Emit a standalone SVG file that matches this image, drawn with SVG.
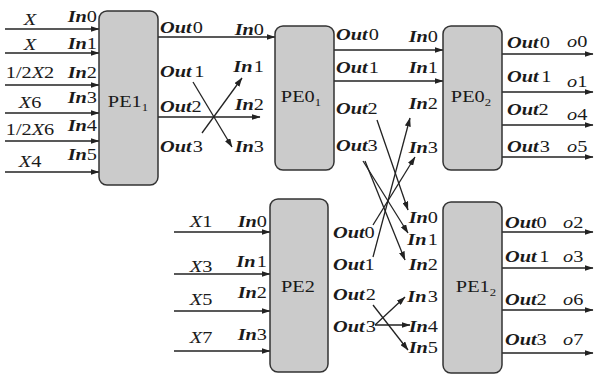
<svg xmlns="http://www.w3.org/2000/svg" width="594" height="375" viewBox="0 0 594 375">
<style>
.bg{fill:#ffffff}
.box{fill:#cbcbcb;stroke:#333;stroke-width:1.5}
.t{font-family:"Liberation Serif","Times New Roman",serif;font-size:16px;fill:#1a1a1a;transform-box:fill-box;transform:scaleX(1.27)}
.l{transform-origin:0 0}
.r{text-anchor:end;transform-origin:100% 0}
.m{text-anchor:middle;transform-origin:50% 0}
.pe{font-size:16px}
.i{font-style:italic;font-weight:bold}
.x{font-style:italic}
.ln{fill:none;stroke:#222;stroke-width:1.3;marker-end:url(#a)}
</style>
<defs>
<marker id="a" markerWidth="9" markerHeight="6" refX="8.5" refY="3" orient="auto" markerUnits="userSpaceOnUse"><path d="M0,0 L9,3 L0,6 z" fill="#222"/></marker>
</defs>
<rect class="bg" x="0" y="0" width="594" height="375"/>
<g id="connectors">
<path class="ln" d="M5,29 H99"/>
<path class="ln" d="M5,53 H99"/>
<path class="ln" d="M5,85 H99"/>
<path class="ln" d="M5,113 H99"/>
<path class="ln" d="M5,141 H99"/>
<path class="ln" d="M5,172 H99"/>
<path class="ln" d="M158,37 H275"/>
<path class="ln" d="M158,117 H260"/>
<path class="ln" d="M193,82 L232,147"/>
<path class="ln" d="M202,133 L242,78"/>
<path class="ln" d="M334,50 H443"/>
<path class="ln" d="M334,81 H443"/>
<path class="ln" d="M377,120 L408,210"/>
<path class="ln" d="M363,161 L408,233"/>
<path class="ln" d="M365,161 L405,260"/>
<path class="ln" d="M174,232 H270"/>
<path class="ln" d="M174,274 H270"/>
<path class="ln" d="M174,311 H270"/>
<path class="ln" d="M174,351 H270"/>
<path class="ln" d="M373,225 L415,157"/>
<path class="ln" d="M373,257 L410,118"/>
<path class="ln" d="M373,305 L408,350"/>
<path class="ln" d="M375,325 L405,297"/>
<path class="ln" d="M375,325 L410,325"/>
<path class="ln" d="M502,54 H593"/>
<path class="ln" d="M502,92 H593"/>
<path class="ln" d="M502,125 H593"/>
<path class="ln" d="M502,157 H593"/>
<path class="ln" d="M502,232 H593"/>
<path class="ln" d="M502,268 H593"/>
<path class="ln" d="M502,310 H593"/>
<path class="ln" d="M502,353 H593"/>
</g>
<g id="inputs1">
<text class="t m" x="30" y="25"><tspan class="x">X</tspan></text>
<text class="t m" x="30" y="50"><tspan class="x">X</tspan></text>
<text class="t m" x="30" y="78">1/2<tspan class="x">X</tspan>2</text>
<text class="t m" x="30" y="108"><tspan class="x">X</tspan>6</text>
<text class="t m" x="30" y="135">1/2<tspan class="x">X</tspan>6</text>
<text class="t m" x="30" y="167"><tspan class="x">X</tspan>4</text>
</g>
<g id="PE1_1">
<rect class="box" x="99" y="11" width="59" height="174" rx="8"/>
<text class="t m pe" x="128" y="107">PE1<tspan font-size="10" dy="4">1</tspan></text>
<text class="t r" x="97" y="22"><tspan class="i">In</tspan>0</text>
<text class="t r" x="97" y="49"><tspan class="i">In</tspan>1</text>
<text class="t r" x="97" y="78"><tspan class="i">In</tspan>2</text>
<text class="t r" x="97" y="103"><tspan class="i">In</tspan>3</text>
<text class="t r" x="97" y="131"><tspan class="i">In</tspan>4</text>
<text class="t r" x="97" y="160"><tspan class="i">In</tspan>5</text>
<text class="t l" x="160" y="33"><tspan class="i">Out</tspan><tspan dx="1">0</tspan></text>
<text class="t l" x="160" y="77"><tspan class="i">Out</tspan><tspan dx="2">1</tspan></text>
<text class="t l" x="160" y="112"><tspan class="i">Out</tspan>2</text>
<text class="t l" x="160" y="152"><tspan class="i">Out</tspan><tspan dx="1">3</tspan></text>
</g>
<g id="PE0_1">
<rect class="box" x="275" y="26" width="59" height="144" rx="8"/>
<text class="t m pe" x="301" y="102">PE0<tspan font-size="10" dy="4">1</tspan></text>
<text class="t r" x="264" y="35"><tspan class="i">In</tspan>0</text>
<text class="t r" x="264" y="72"><tspan class="i">In</tspan><tspan dx="1">1</tspan></text>
<text class="t r" x="264" y="110"><tspan class="i">In</tspan>2</text>
<text class="t r" x="264" y="152"><tspan class="i">In</tspan>3</text>
<text class="t l" x="336" y="40"><tspan class="i">Out</tspan><tspan dx="1">0</tspan></text>
<text class="t l" x="336" y="73"><tspan class="i">Out</tspan><tspan dx="1">1</tspan></text>
<text class="t l" x="336" y="114"><tspan class="i">Out</tspan>2</text>
<text class="t l" x="336" y="151"><tspan class="i">Out</tspan>3</text>
</g>
<g id="PE0_2">
<rect class="box" x="443" y="26" width="59" height="144" rx="8"/>
<text class="t m pe" x="471" y="102">PE0<tspan font-size="10" dy="4">2</tspan></text>
<text class="t r" x="438" y="42"><tspan class="i">In</tspan>0</text>
<text class="t r" x="438" y="73"><tspan class="i">In</tspan>1</text>
<text class="t r" x="438" y="109"><tspan class="i">In</tspan>2</text>
<text class="t r" x="438" y="153"><tspan class="i">In</tspan>3</text>
<text class="t l" x="507" y="48"><tspan class="i">Out</tspan><tspan dx="1">0</tspan></text>
<text class="t l" x="507" y="82"><tspan class="i">Out</tspan><tspan dx="2">1</tspan></text>
<text class="t l" x="507" y="115"><tspan class="i">Out</tspan>2</text>
<text class="t l" x="507" y="152"><tspan class="i">Out</tspan><tspan dx="1">3</tspan></text>
<text class="t l" x="567" y="47"><tspan class="x">o</tspan>0</text>
<text class="t l" x="567" y="87"><tspan class="x">o</tspan>1</text>
<text class="t l" x="567" y="120"><tspan class="x">o</tspan>4</text>
<text class="t l" x="567" y="152"><tspan class="x">o</tspan>5</text>
</g>
<g id="PE2">
<rect class="box" x="270" y="199" width="58" height="173" rx="8"/>
<text class="t m pe" x="298" y="292">PE2</text>
<text class="t m" x="201" y="227"><tspan class="x">X</tspan>1</text>
<text class="t m" x="201" y="272"><tspan class="x">X</tspan>3</text>
<text class="t m" x="201" y="305"><tspan class="x">X</tspan>5</text>
<text class="t m" x="201" y="343"><tspan class="x">X</tspan>7</text>
<text class="t r" x="267" y="227"><tspan class="i">In</tspan>0</text>
<text class="t r" x="267" y="267"><tspan class="i">In</tspan><tspan dx="1">1</tspan></text>
<text class="t r" x="267" y="298"><tspan class="i">In</tspan>2</text>
<text class="t r" x="267" y="340"><tspan class="i">In</tspan>3</text>
<text class="t l" x="333" y="238"><tspan class="i">Out</tspan>0</text>
<text class="t l" x="333" y="270"><tspan class="i">Out</tspan>1</text>
<text class="t l" x="333" y="300"><tspan class="i">Out</tspan><tspan dx="1">2</tspan></text>
<text class="t l" x="333" y="332"><tspan class="i">Out</tspan><tspan dx="1">3</tspan></text>
</g>
<g id="PE1_2">
<rect class="box" x="443" y="202" width="59" height="171" rx="8"/>
<text class="t m pe" x="476" y="292">PE1<tspan font-size="10" dy="4">2</tspan></text>
<text class="t r" x="438" y="223"><tspan class="i">In</tspan>0</text>
<text class="t r" x="438" y="245"><tspan class="i">In</tspan><tspan dx="1">1</tspan></text>
<text class="t r" x="438" y="270"><tspan class="i">In</tspan>2</text>
<text class="t r" x="438" y="302"><tspan class="i">In</tspan><tspan dx="1">3</tspan></text>
<text class="t r" x="438" y="332"><tspan class="i">In</tspan>4</text>
<text class="t r" x="438" y="353"><tspan class="i">In</tspan>5</text>
<text class="t l" x="505" y="228"><tspan class="i">Out</tspan>0</text>
<text class="t l" x="505" y="262"><tspan class="i">Out</tspan><tspan dx="2">1</tspan></text>
<text class="t l" x="505" y="305"><tspan class="i">Out</tspan>2</text>
<text class="t l" x="505" y="345"><tspan class="i">Out</tspan>3</text>
<text class="t l" x="563" y="228"><tspan class="x">o</tspan>2</text>
<text class="t l" x="563" y="262"><tspan class="x">o</tspan>3</text>
<text class="t l" x="563" y="305"><tspan class="x">o</tspan>6</text>
<text class="t l" x="563" y="345"><tspan class="x">o</tspan>7</text>
</g>
</svg>
